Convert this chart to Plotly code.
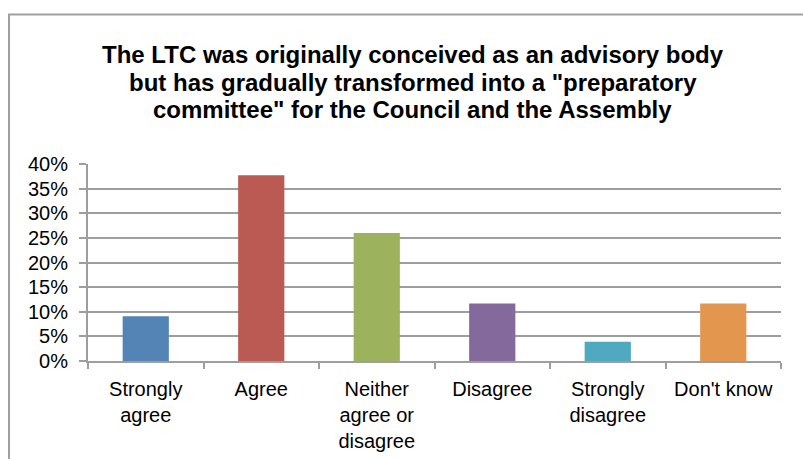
import plotly.graph_objects as go

# Survey responses (share of respondents)
categories = ["Strongly<br>agree", "Agree", "Neither<br>agree or<br>disagree",
              "Disagree", "Strongly<br>disagree", "Don't know"]
shares = [0.091, 0.377, 0.260, 0.117, 0.039, 0.117]
bar_colors = ["#5483B6", "#BA5A52", "#9CB25D", "#846A9C", "#4FA9C1", "#E3964E"]
title_lines = [
    "The LTC was originally conceived as an advisory body",
    "but has gradually transformed into a \"preparatory",
    "committee\" for the Council and the Assembly",
]
y_ticks = [0, 0.05, 0.10, 0.15, 0.20, 0.25, 0.30, 0.35, 0.40]

FONT = "Liberation Sans, Arial, sans-serif"
GRID = "#9e9e9e"

fig = go.Figure(
    go.Bar(
        x=categories,
        y=shares,
        marker=dict(color=bar_colors, line=dict(width=0)),
        hoverinfo="x+y",
    )
)

# Plot area spans x 88..781 px, y 164..361 px
L, R, T, B = 88, 781, 164, 361
W, H = 803, 459
pw, ph = R - L, B - T

def px_x(p):
    return (p - L) / pw

def px_y(p):
    return (B - p) / ph

fig.update_layout(
    width=W,
    height=H,
    margin=dict(l=L, r=W - R, t=T, b=H - B, pad=0, autoexpand=False),
    paper_bgcolor="white",
    plot_bgcolor="white",
    bargap=0.6,
    showlegend=False,
    font=dict(family=FONT, size=20, color="#000000"),
    xaxis=dict(
        type="category",
        automargin=False,
        tickson="boundaries",
        ticks="outside",
        ticklen=6,
        tickwidth=2,
        tickcolor=GRID,
        ticklabelstandoff=9,
        showline=True,
        linecolor=GRID,
        linewidth=2,
        showgrid=False,
        tickfont=dict(family=FONT, size=20, color="#000000"),
        fixedrange=True,
    ),
    yaxis=dict(
        range=[0, 0.4],
        automargin=False,
        tickvals=y_ticks,
        tickformat=".0%",
        ticks="outside",
        ticklen=7,
        tickwidth=2,
        tickcolor=GRID,
        ticklabelstandoff=7,
        showline=True,
        linecolor=GRID,
        linewidth=2,
        showgrid=True,
        gridcolor=GRID,
        gridwidth=2,
        zeroline=False,
        tickfont=dict(family=FONT, size=20, color="#000000"),
        fixedrange=True,
    ),
)

# Chart frame
fig.add_shape(
    type="rect", xref="paper", yref="paper",
    x0=px_x(9), x1=px_x(830), y0=px_y(480), y1=px_y(14.5),
    line=dict(color="#a0a0a0", width=2), layer="below",
)

# Title, one line per annotation for tight line spacing
for i, line in enumerate(title_lines):
    fig.add_annotation(
        text="<b>" + line + "</b>",
        xref="paper", yref="paper",
        x=px_x(412.5), y=px_y(54.5 + i * 27.7),
        xanchor="center", yanchor="middle",
        showarrow=False,
        font=dict(family=FONT, size=24, color="#000000"),
    )

fig.write_html("out.html")
